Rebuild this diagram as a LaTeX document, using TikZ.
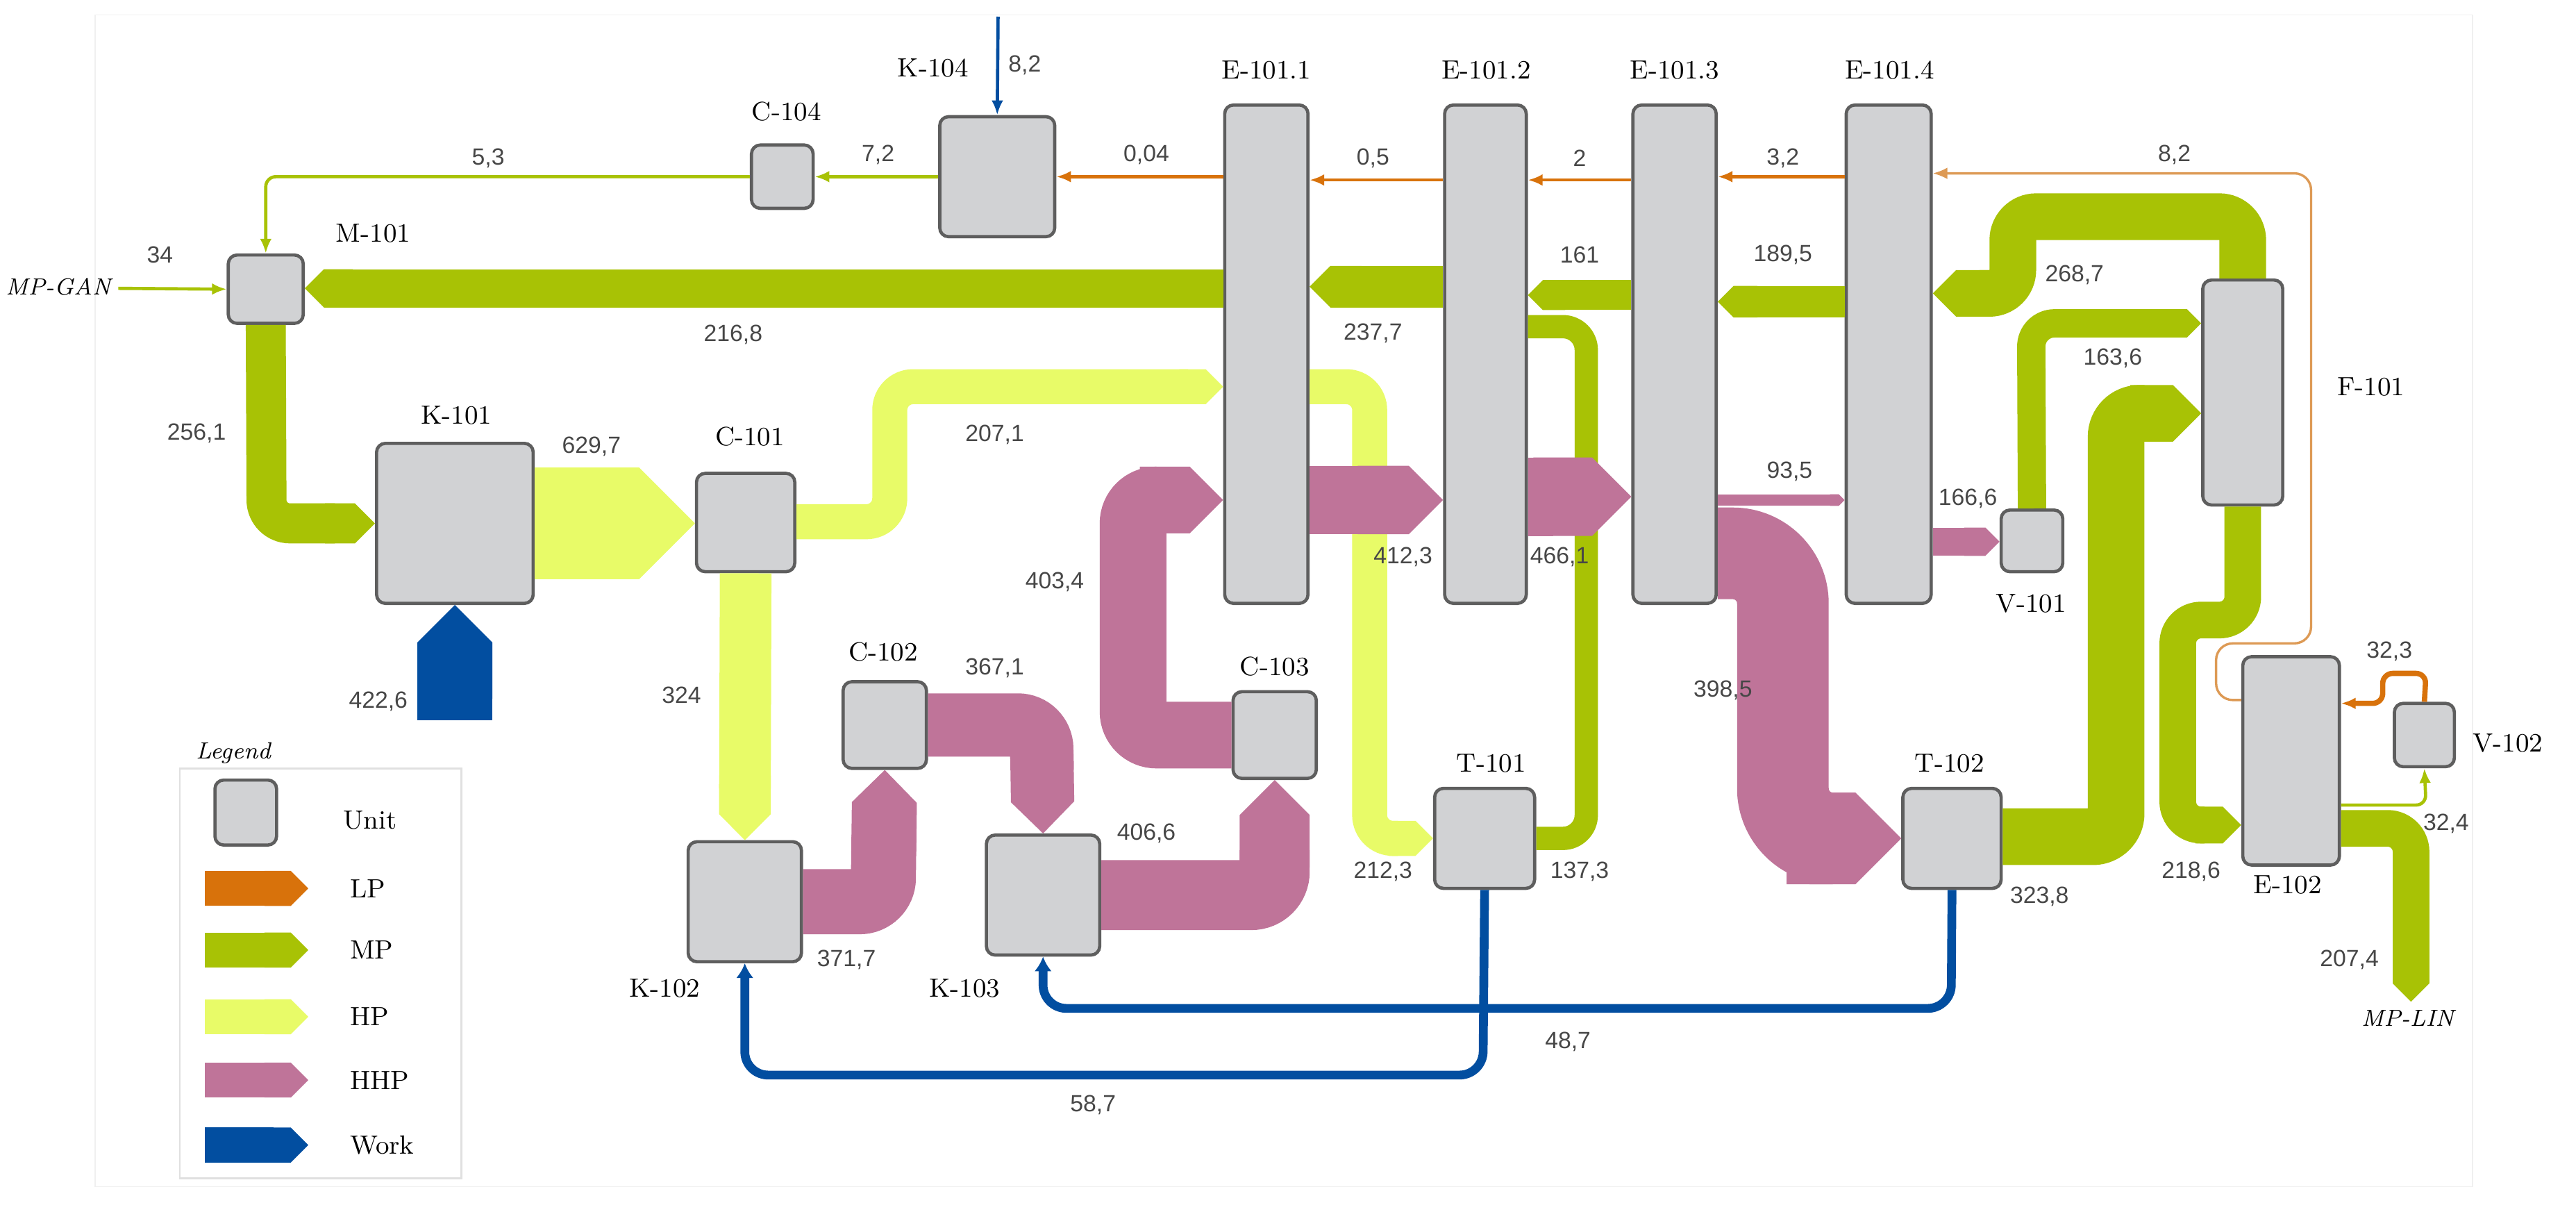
\documentclass[tikz,border=0pt]{standalone}
\usepackage{fontspec}
\newfontfamily\numfont{Liberation Sans}
\usetikzlibrary{arrows.meta,calc,positioning}
\definecolor{mpCol}{HTML}{A8C205}
\definecolor{hpCol}{HTML}{E8FB68}
\definecolor{hhpCol}{HTML}{BF7499}
\definecolor{lpCol}{HTML}{D8720B}
\definecolor{lpThin}{HTML}{DD9A55}
\definecolor{workCol}{HTML}{024EA0}
\definecolor{unitFill}{HTML}{D1D2D4}
\definecolor{unitDraw}{HTML}{5E5E5E}
\tikzset{
  unit/.style={draw=unitDraw, fill=unitFill, line width=1.1pt, rounded corners=3pt, inner sep=0pt},
  band/.style={line width=#1*0.02cm, rounded corners=14*0.02cm},
  tip/.style={-{Triangle Cap}},
  mp/.style={draw=mpCol}, hp/.style={draw=hpCol}, hhp/.style={draw=hhpCol},
  thinflow/.style={line width=1.1pt, rounded corners=6*0.02cm, -{Latex[length=5pt,width=4pt]}},
  work/.style={draw=workCol, line width=3pt, rounded corners=14*0.02cm, -{Latex[length=5pt,width=6pt]}},
  num/.style={font=\numfont\fontsize{8}{9}\selectfont, text=black!72, inner sep=1pt},
  lbl/.style={font=\fontsize{9}{10}\selectfont, inner sep=1pt},
}
\begin{document}
\begin{tikzpicture}[x=0.02cm,y=-0.02cm]
  \useasboundingbox (0,0) rectangle (1546,727);
  \fill[white] (0,0) rectangle (1546,727);
  \draw[black!6, fill=white] (57,9) rectangle (1484,712);

  % the units
  \foreach \name/\xa/\ya/\xb/\yb in {M101/137/153/182/194, C104/451/87/488/125, K104/564/70/633/142,
      E1/735/63/785/362, E2/867/63/916/362, E3/980/63/1030/362, E4/1108/63/1159/362,
      F101/1322/168/1370/303, V101/1201/306/1238/343, K101/226/266/320/362, C101/418/284/477/343,
      C102/506/409/556/461, K102/413/505/481/577, K103/592/501/660/573, C103/740/415/790/467,
      T101/861/473/921/533, T102/1142/473/1201/533, E102/1346/394/1404/519, V102/1437/422/1473/460}
    \node[unit, minimum width={(\xb-\xa)*0.02cm}, minimum height={(\yb-\ya)*0.02cm}]
      (\name) at ({(\xa+\xb)/2},{(\ya+\yb)/2}) {};

  % free ends
  \coordinate (gan) at (71,173);
  \coordinate (lin) at (1447,601);
  \coordinate (wk) at (273,432);
  \coordinate (wtop) at (599,10);

  % MP bands
  \draw[mp, band=23, tip] (E1.west |- 0,173) -- (M101.east |- 0,173);
  \draw[mp, band=25, tip] (E2.west |- 0,172) -- (E1.east |- 0,172);
  \draw[mp, band=18, tip] (E3.west |- 0,177) -- (E2.east |- 0,177);
  \draw[mp, band=19, tip] (E4.west |- 0,181) -- (E3.east |- 0,181);
  \draw[mp, band=28, tip] (F101.north) -- (1346,130) -- (1208,130) -- (1208,176) -- (E4.east |- 0,176);
  \draw[mp, band=17, tip] (V101.north) -- (1219,194) -- (F101.west |- 0,194);
  \draw[mp, band=34, tip] (T102.east |- 0,502) -- (1270,502) -- (1270,248) -- (F101.west |- 0,248);
  \draw[mp, band=22, tip] (F101.south) -- (1346,372) -- (1307,372) -- (1307,495) -- (E102.west |- 0,495);
  \draw[mp, band=22, tip] (E102.east |- 0,497) -- (1447,497) -- (lin);
  \draw[mp, band=24, tip] (M101.south) -- (160,314) -- (K101.west |- 0,314);
  \draw[mp, band=14] (E2.east |- 0,196) -- (952,196) -- (952,503) -- (T101.east |- 0,503);

  % HP bands
  \draw[hp, band=67, tip] (K101.east |- 0,314) -- (C101.west |- 0,314);
  \draw[hp, band=21, tip] (C101.east |- 0,313) -- (534,313) -- (534,232) -- (E1.west |- 0,232);
  \draw[hp, band=31, tip] (C101.south) -- (K102.north);
  \draw[hp, band=21, tip] (E1.east |- 0,232) -- (822,232) -- (822,503) -- (T101.west |- 0,503);

  % HHP bands
  \draw[hhp, band=39, tip] (K102.east |- 0,541) -- (530,541) -- (C102.south);
  \draw[hhp, band=38, tip] (C102.east |- 0,435) -- (625,435) -- (K103.north);
  \draw[hhp, band=42, tip] (K103.east |- 0,537) -- (765,537) -- (C103.south);
  \draw[hhp, band=40, tip] (C103.west |- 0,441) -- (680,441) -- (680,300) -- (E1.west |- 0,300);
  \draw[hhp, band=41, tip] (E1.east |- 0,300) -- (E2.west |- 0,300);
  \draw[hhp, band=47, tip] (E2.east |- 0,298) -- (E3.west |- 0,298);
  \draw[hhp, band=7, tip] (E3.east |- 0,300) -- (E4.west |- 0,300);
  \draw[hhp, band=55, rounded corners=30*0.02cm, tip] (E3.east |- 0,332) -- (1070,332) -- (1070,503) -- (T102.west |- 0,503);
  \draw[hhp, band=17, tip] (E4.east |- 0,325) -- (V101.west |- 0,325);

  % work
  \draw[draw=workCol, band=45, tip] (wk) -- (K101.south);
  \draw[work] (T101.south) -- (890,645) -- (447,645) -- (K102.south);
  \draw[work] (T102.south) -- (1171,605) -- (626,605) -- (K103.south);
  \draw[workCol, thinflow] (wtop) -- (K104.north);

  % thin streams
  \draw[mpCol, thinflow] (gan) -- (M101.west);
  \draw[mpCol, thinflow] (C104.west) -| (M101.north);
  \draw[mpCol, thinflow] (K104.west) -- (C104.east);
  \draw[lpCol, thinflow] (E1.west |- K104.west) -- (K104.east);
  \draw[lpCol, thinflow] (E2.west |- 0,108) -- (E1.east |- 0,108);
  \draw[lpCol, thinflow] (E3.west |- 0,108) -- (E2.east |- 0,108);
  \draw[lpCol, thinflow] (E4.west |- 0,106) -- (E3.east |- 0,106);
  \draw[lpThin, thinflow, line width=0.8pt, rounded corners=10*0.02cm] (E102.west |- 0,420) -- (1330,420) -- (1330,386) -- (1387,386) -- (1387,104) -- (E4.east |- 0,104);
  \draw[mpCol, thinflow] (E102.east |- 0,483) -- (1456,483) -- (V102.south);
  \draw[lpCol, thinflow, line width=1.8pt] (V102.north) -- (1456,404) -- (1430,404) -- (1430,422) -- (E102.east |- 0,422);

  % unit labels
  \foreach \x/\y/\t in {224/140/M-101, 472/67/C-104, 560/41/K-104, 760/42/E-101.1, 892/42/E-101.2,
      1005/42/E-101.3, 1134/42/E-101.4, 1423/232/F-101, 1219/362/V-101, 274/249/K-101, 450/262/C-101,
      530/391/C-102, 399/593/K-102, 579/593/K-103, 765/400/C-103, 895/458/T-101, 1170/458/T-102,
      1373/531/E-102, 1505/446/V-102}
    \node[lbl] at (\x,\y) {\t};
  \node[lbl, font=\itshape\fontsize{8}{9}\selectfont] at (35,172) {MP-GAN};
  \node[lbl, font=\itshape\fontsize{8}{9}\selectfont] at (1445,611) {MP-LIN};

  % values
  \foreach \x/\y/\t in {96/153/34, 293/95/{5,3}, 527/93/{7,2}, 688/93/{0,04}, 824/95/{0,5}, 948/95/2,
      1070/95/{3,2}, 1305/93/{8,2}, 615/39/{8,2}, 440/201/{216,8}, 824/200/{237,7}, 948/153/161,
      1070/153/{189,5}, 1245/165/{268,7}, 1268/215/{163,6}, 118/260/{256,1}, 355/268/{629,7},
      597/261/{207,1}, 227/421/{422,6}, 409/417/324, 597/401/{367,1}, 508/576/{371,7}, 688/500/{406,6},
      633/349/{403,4}, 842/334/{412,3}, 936/334/{466,1}, 1074/283/{93,5}, 1181/299/{166,6},
      1034/414/{398,5}, 830/523/{212,3}, 948/523/{137,3}, 1224/538/{323,8}, 1315/523/{218,6},
      1434/391/{32,3}, 1468/494/{32,4}, 1410/576/{207,4}, 656/663/{58,7}, 941/625/{48,7}}
    \node[num] at (\x,\y) {\t};

  % legend
  \node[lbl, font=\itshape\fontsize{8}{9}\selectfont] at (140,452) {Legend};
  \draw[black!12, line width=0.6pt] (108,461) rectangle (277,707);
  \node[unit, minimum width=37*0.02cm, minimum height=39*0.02cm] (lgU) at (147.5,487.5) {};
  \node[lbl] at (222,492) {Unit};
  \foreach \c/\y/\t in {lpCol/533/LP, mpCol/570/MP, hpCol/610/HP, hhpCol/648/HHP, workCol/687/Work}
  {
    \draw[draw=\c, band=21, tip] (123,\y) -- (185,\y);
    \node[lbl, anchor=west] at (208,\y) {\t};
  }
\end{tikzpicture}
\end{document}
